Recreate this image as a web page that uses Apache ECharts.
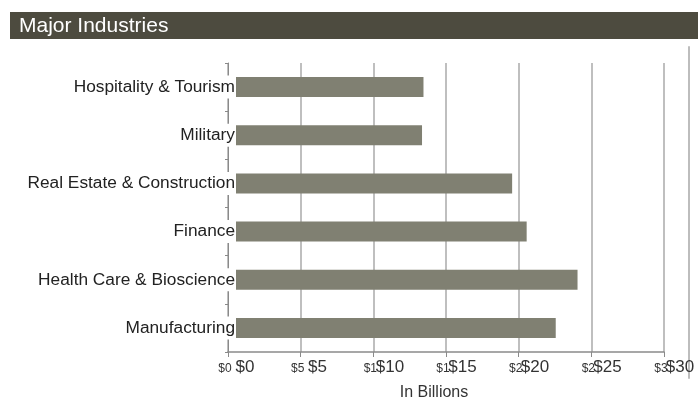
<!DOCTYPE html>
<html>
<head>
<meta charset="utf-8">
<script src="https://cdn.jsdelivr.net/npm/echarts@6/dist/echarts.min.js"></script>
<style>html,body{margin:0;padding:0;background:#fff}#c{width:698px;height:409px}</style>
</head>
<body>
<div id="c"></div>
<script>
var categories = ['Hospitality & Tourism', 'Military', 'Real Estate & Construction', 'Finance', 'Health Care & Bioscience', 'Manufacturing'];
var values = [12.9, 12.8, 19.0, 20.0, 23.5, 22.0];
var smallTickLabels = ['$0', '$5', '$1', '$1', '$2', '$2', '$3'];
var bigTickLabels = ['$0', '$5', '$10', '$15', '$20', '$25', '$30'];
var titleText = 'Major Industries';
var axisTitle = 'In Billions';

var FONT = '"Liberation Sans", Arial, Helvetica, sans-serif';
var chart = echarts.init(document.getElementById('c'), null, {renderer: 'canvas'});
var option = {
  animation: false,
  textStyle: {fontFamily: FONT},
  graphic: [
    {type: 'rect', left: 10, top: 12, shape: {width: 688, height: 27}, style: {fill: '#4d4b3f'}},
    {type: 'text', x: 19, y: 26, style: {text: titleText, fill: '#ffffff', font: '21px ' + FONT, textAlign: 'left', textVerticalAlign: 'middle'}},
    {type: 'text', x: 434, y: 393, style: {text: axisTitle, fill: '#333', font: '16px ' + FONT, textAlign: 'center', textVerticalAlign: 'middle'}}
  ],
  grid: [
    {left: 228, right: 34, top: 63, bottom: 57},
    {left: 236, right: 26, top: 63, bottom: 57},
    {left: 245, right: 18, top: 63, bottom: 57},
    {left: 689, right: 7, top: 47, bottom: 31}
  ],
  xAxis: [
    {type: 'value', gridIndex: 0, min: 0, max: 30, interval: 5,
      axisLine: {show: true, lineStyle: {color: '#8a8a8a', width: 1.5}},
      axisTick: {show: true, length: 5, lineStyle: {color: '#8a8a8a'}},
      splitLine: {show: true, lineStyle: {color: '#aaa', width: 1.5}},
      axisLabel: {fontSize: 12, color: '#333', margin: 11, padding: [0, 6, 0, 0],
        formatter: function (v) { return smallTickLabels[Math.round(v / 5)]; }}},
    {type: 'value', gridIndex: 1, min: 0, max: 30, show: false},
    {type: 'value', gridIndex: 2, min: 0, max: 30, interval: 5,
      axisLine: {show: false}, axisTick: {show: false}, splitLine: {show: false},
      axisLabel: {fontSize: 17, color: '#333', margin: 7,
        formatter: function (v) { return bigTickLabels[Math.round(v / 5)]; }}},
    {type: 'value', gridIndex: 3, show: false}
  ],
  yAxis: [
    {type: 'category', gridIndex: 0, data: categories, inverse: true,
      axisLine: {show: true, lineStyle: {color: '#8a8a8a', width: 1}},
      axisTick: {show: true, length: 3, lineStyle: {color: '#8a8a8a'}},
      axisLabel: {fontSize: 17.3, color: '#222', margin: -8, backgroundColor: '#fff', padding: [3, 1, 3, 2]},
      z: 3},
    {type: 'category', gridIndex: 1, data: categories, inverse: true, show: false},
    {type: 'category', gridIndex: 2, data: categories, inverse: true, show: false},
    {type: 'value', gridIndex: 3, show: true, axisLabel: {show: false}, axisTick: {show: false}, splitLine: {show: false},
      axisLine: {show: true, lineStyle: {color: '#bdbdbd', width: 2}}}
  ],
  series: [
    {type: 'bar', xAxisIndex: 1, yAxisIndex: 1, data: values, barWidth: 20,
      itemStyle: {color: '#808072'}, z: 1}
  ]
};
chart.setOption(option);
</script>
</body>
</html>
